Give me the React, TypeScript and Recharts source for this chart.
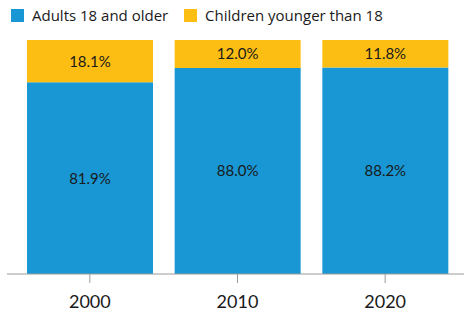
import { BarChart, Bar, XAxis, YAxis, LabelList } from 'recharts';

const years = ['2000', '2010', '2020'];
const adults = [81.9, 88.0, 88.2];
const children = [18.1, 12.0, 11.8];

const BLUE = '#1897D4';
const YELLOW = '#FDBE14';
const TEXT = '#1a1a1a';

const chartData = years.map((year, i) => ({
  year,
  adults: adults[i],
  children: children[i],
}));

const pct = (value: any) => `${Number(value).toFixed(1)}%`;

function LegendItem({ color, label, left }: { color: string; label: string; left: number }) {
  return (
    <div style={{ position: 'absolute', left, top: 5, display: 'flex', alignItems: 'center' }}>
      <div style={{ width: 13, height: 13, background: color, marginRight: 8 }} />
      <span style={{ fontFamily: '"Open Sans", sans-serif', fontSize: 15, color: TEXT }}>{label}</span>
    </div>
  );
}

export default function App() {
  return (
    <div style={{ position: 'absolute', left: 0, top: 0, width: 464, height: 320, background: '#fff' }}>
      <LegendItem color={BLUE} label="Adults 18 and older" left={11} />
      <LegendItem color={YELLOW} label="Children younger than 18" left={184} />
      <BarChart
        width={464}
        height={320}
        data={chartData}
        margin={{ top: 40, right: 0, left: 7, bottom: 0 }}
        barCategoryGap={11}
      >
        <XAxis
          dataKey="year"
          height={46}
          padding={{ left: 9, right: 5 }}
          axisLine={{ stroke: '#9a9a9a' }}
          tickLine={{ stroke: '#9a9a9a' }}
          tickSize={9}
          tick={{ fill: TEXT, fontSize: 18, fontFamily: 'Lato, sans-serif' }}
          tickMargin={12}
        />
        <YAxis hide domain={[0, 100]} />
        <Bar dataKey="adults" stackId="a" fill={BLUE} isAnimationActive={false}>
          <LabelList
            dataKey="adults"
            position="center"
            formatter={pct}
            style={{ fill: TEXT, fontSize: 15, fontFamily: 'Lato, sans-serif' }}
          />
        </Bar>
        <Bar dataKey="children" stackId="a" fill={YELLOW} isAnimationActive={false}>
          <LabelList
            dataKey="children"
            position="center"
            formatter={pct}
            style={{ fill: TEXT, fontSize: 15, fontFamily: 'Lato, sans-serif' }}
          />
        </Bar>
      </BarChart>
    </div>
  );
}
